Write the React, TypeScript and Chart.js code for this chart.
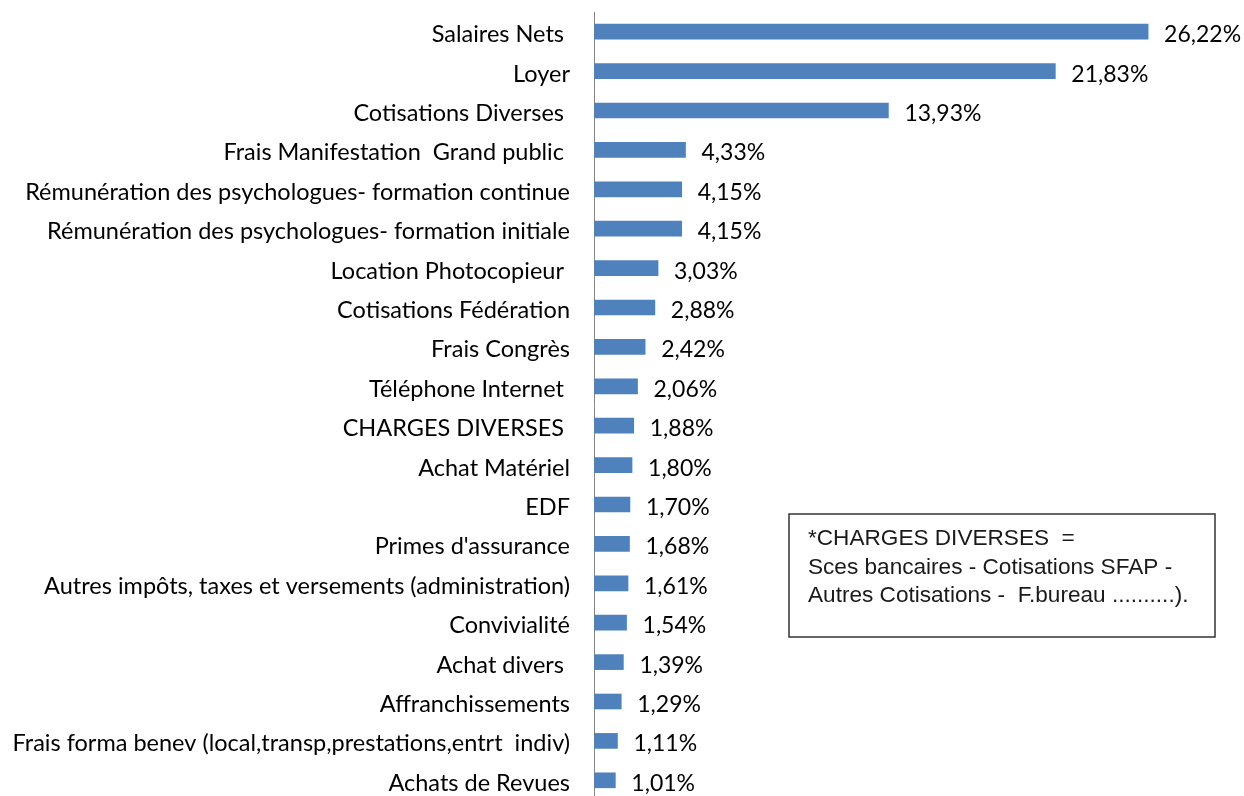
import React, { useEffect, useRef } from "react";
import { Chart, registerables } from "chart.js";

Chart.register(...registerables);

const categories = [
  "Salaires Nets ",
  "Loyer",
  "Cotisations Diverses ",
  "Frais Manifestation  Grand public ",
  "Rémunération des psychologues- formation continue",
  "Rémunération des psychologues- formation initiale",
  "Location Photocopieur ",
  "Cotisations Fédération",
  "Frais Congrès",
  "Téléphone Internet ",
  "CHARGES DIVERSES ",
  "Achat Matériel",
  "EDF",
  "Primes d'assurance",
  "Autres impôts, taxes et versements (administration)",
  "Convivialité",
  "Achat divers ",
  "Affranchissements",
  "Frais forma benev (local,transp,prestations,entrt  indiv)",
  "Achats de Revues",
];

const shares = [
  26.22, 21.83, 13.93, 4.33, 4.15, 4.15, 3.03, 2.88, 2.42, 2.06, 1.88, 1.8,
  1.7, 1.68, 1.61, 1.54, 1.39, 1.29, 1.11, 1.01,
];

const noteLines = [
  "*CHARGES DIVERSES  =",
  "Sces bancaires - Cotisations SFAP -",
  "Autres Cotisations -  F.bureau ..........).",
];

const LABEL_FONT = "Lato, 'Open Sans', sans-serif";

const valueLabels = {
  id: "valueLabels",
  afterDatasetsDraw(chart: any) {
    const ctx = chart.ctx;
    const meta = chart.getDatasetMeta(0);
    ctx.save();
    ctx.font = `23px ${LABEL_FONT}`;
    ctx.fillStyle = "#000";
    ctx.textAlign = "left";
    ctx.textBaseline = "middle";
    meta.data.forEach((bar: any, i: number) => {
      const txt = shares[i].toFixed(2).replace(".", ",") + "%";
      ctx.fillText(txt, bar.x + 16, bar.y + 3);
    });
    ctx.restore();
  },
};

const noteBox = {
  id: "noteBox",
  afterDraw(chart: any) {
    const ctx = chart.ctx;
    const x = 789, y = 514, w = 426, h = 123;
    ctx.save();
    ctx.strokeStyle = "#333";
    ctx.lineWidth = 1.5;
    ctx.strokeRect(x, y, w, h);
    ctx.font = "22.6px 'Liberation Sans', Arial, sans-serif";
    ctx.fillStyle = "#1a1a1a";
    ctx.textAlign = "left";
    ctx.textBaseline = "alphabetic";
    noteLines.forEach((line, i) => {
      ctx.fillText(line, x + 19, y + 31 + i * 28.5);
    });
    ctx.restore();
  },
};

export default function App() {
  const ref = useRef<HTMLCanvasElement>(null);
  useEffect(() => {
    if (!ref.current) return;
    const chart = new Chart(ref.current, {
      type: "bar",
      data: {
        labels: categories,
        datasets: [
          {
            data: shares,
            backgroundColor: "#4F81BD",
            barThickness: 15,
          },
        ],
      },
      options: {
        indexAxis: "y",
        animation: false,
        responsive: false,
        maintainAspectRatio: false,
        layout: { padding: { top: 12, bottom: 2, left: 0, right: 16 } },
        plugins: {
          legend: { display: false },
          tooltip: { enabled: false },
        },
        scales: {
          x: {
            display: false,
            min: 0,
            max: 30,
          },
          y: {
            grid: { display: false, drawTicks: false },
            border: { display: true, color: "#868686", width: 1 },
            ticks: {
              padding: 24,
              labelOffset: 3,
              color: "#000",
              autoSkip: false,
              font: { family: LABEL_FONT, size: 23.5 },
            },
            afterFit(scale: any) {
              scale.width = 594;
              scale.paddingTop = 0;
              scale.paddingBottom = 0;
            },
          },
        },
      },
      plugins: [valueLabels, noteBox],
    });
    return () => chart.destroy();
  }, []);
  return (
    <div
      style={{
        position: "absolute",
        left: 0,
        top: 0,
        width: 1244,
        height: 796,
        overflow: "hidden",
        background: "#fff",
      }}
    >
      <canvas
        ref={ref}
        width={1244}
        height={802}
        style={{ width: 1244, height: 802, display: "block" }}
      />
    </div>
  );
}
